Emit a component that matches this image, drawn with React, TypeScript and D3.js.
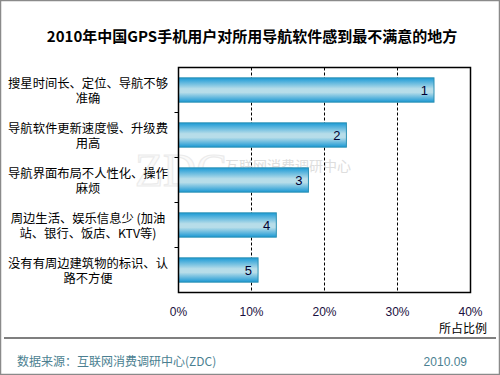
import React from "react";
import * as d3 from "d3";

const title = "2010年中国GPS手机用户对所用导航软件感到最不满意的地方";
const categories: string[][] = [
  ["搜星时间长、定位、导航不够", "准确"],
  ["导航软件更新速度慢、升级费", "用高"],
  ["导航界面布局不人性化、操作", "麻烦"],
  ["周边生活、娱乐信息少 (加油", "站、银行、饭店、KTV等)"],
  ["没有有周边建筑物的标识、认", "路不方便"],
];
const values = [35, 23, 17.8, 13.4, 10.9];
const barLabels = ["1", "2", "3", "4", "5"];
const xTicks = [0, 10, 20, 30, 40];
const axisTitle = "所占比例";
const source = "数据来源：互联网消费调研中心(ZDC)";
const dateText = "2010.09";

export default function App() {
  const W = 500, H = 375;
  const left = 178.5, right = 470.5, top = 67.5, bottom = 292.5;
  const x = d3.scaleLinear().domain([0, 40]).range([left, right]);
  const y = d3.scaleBand<number>().domain(d3.range(categories.length)).range([top, bottom]).paddingInner(0.46).paddingOuter(0.23);
  const band = (bottom - top) / categories.length;
  return (
    <svg width={W} height={H} style={{ position: "absolute", left: 0, top: 0, background: "#fff" }} fontFamily="'Noto Sans CJK SC', sans-serif">
      <defs>
        <linearGradient id="barg" x1="0" y1="0" x2="0" y2="1">
          <stop offset="0" stopColor="#1b9ad6" />
          <stop offset="0.45" stopColor="#b7dde9" />
          <stop offset="0.6" stopColor="#b7dde9" />
          <stop offset="1" stopColor="#1a98d4" />
        </linearGradient>
      </defs>
      <rect x={0.5} y={0.5} width={W - 1} height={H - 1} fill="#fff" stroke="#8a8a8a" strokeWidth={1.5} />
      <text x={252} y={42} textAnchor="middle" fontSize={15} fontWeight="bold" fill="#000">{title}</text>

      {/* watermark */}
      <text x={135} y={186} fontSize={46} fontFamily="Liberation Serif, serif" stroke="#c8c8c8" strokeWidth={1.2} fill="#f2f2f2" opacity={0.35}>ZDC</text>
      <text x={225} y={171} fontSize={14} fill="#d6d6d6" opacity={0.8}>互联网消费调研中心</text>
      <text x={220} y={183} fontSize={13} fill="#d6d6d6" opacity={0.8} fontFamily="Liberation Serif, serif">zdc.zol.com.cn</text>

      {/* gridlines */}
      {xTicks.slice(1, -1).map((t) => (
        <line key={t} x1={x(t)} x2={x(t)} y1={top} y2={bottom} stroke="#000" strokeDasharray="3,2" strokeWidth={1} />
      ))}
      {/* bars */}
      {values.map((v, i) => (
        <g key={i}>
          <rect x={x(0)} y={y(i)!} width={x(v) - x(0)} height={y.bandwidth()} fill="url(#barg)" stroke="#2a8fb3" strokeWidth={1} />
          <text x={x(v) - 6} y={y(i)! + y.bandwidth() / 2 + 5} textAnchor="end" fontSize={13} fill="#000033" fontFamily="Liberation Sans, Arial, sans-serif">{barLabels[i]}</text>
        </g>
      ))}
      {/* frame */}
      <rect x={left} y={top} width={right - left} height={bottom - top} fill="none" stroke="#000" strokeWidth={1.5} />
      {d3.range(1, categories.length).map((k) => (
        <line key={k} x1={left - 4} x2={left} y1={top + k * band} y2={top + k * band} stroke="#000" />
      ))}
      {/* category labels */}
      {categories.map((lines, i) => {
        const cy = top + band * (i + 0.5);
        return lines.map((ln, j) => (
          <text key={i + "-" + j} x={88} y={cy - 7 + j * 15 + 5} textAnchor="middle" fontSize={12.3} fill="#000">{ln}</text>
        ));
      })}
      {/* x tick labels */}
      {xTicks.map((t) => (
        <text key={t} x={x(t)} y={316} textAnchor="middle" fontSize={12} fill="#1a1040" fontFamily="Liberation Sans, Arial, sans-serif">{t + "%"}</text>
      ))}
      <text x={487} y={333} textAnchor="end" fontSize={12} fill="#000">{axisTitle}</text>
      <line x1={4} x2={496} y1={338} y2={338} stroke="#000" strokeWidth={1.2} />
      <text x={17} y={366} fontSize={12} fill="#4b7f91">{source}</text>
      <text x={467} y={366} textAnchor="end" fontSize={12} fill="#4b7f91" fontFamily="Liberation Sans, Arial, sans-serif">{dateText}</text>
    </svg>
  );
}
